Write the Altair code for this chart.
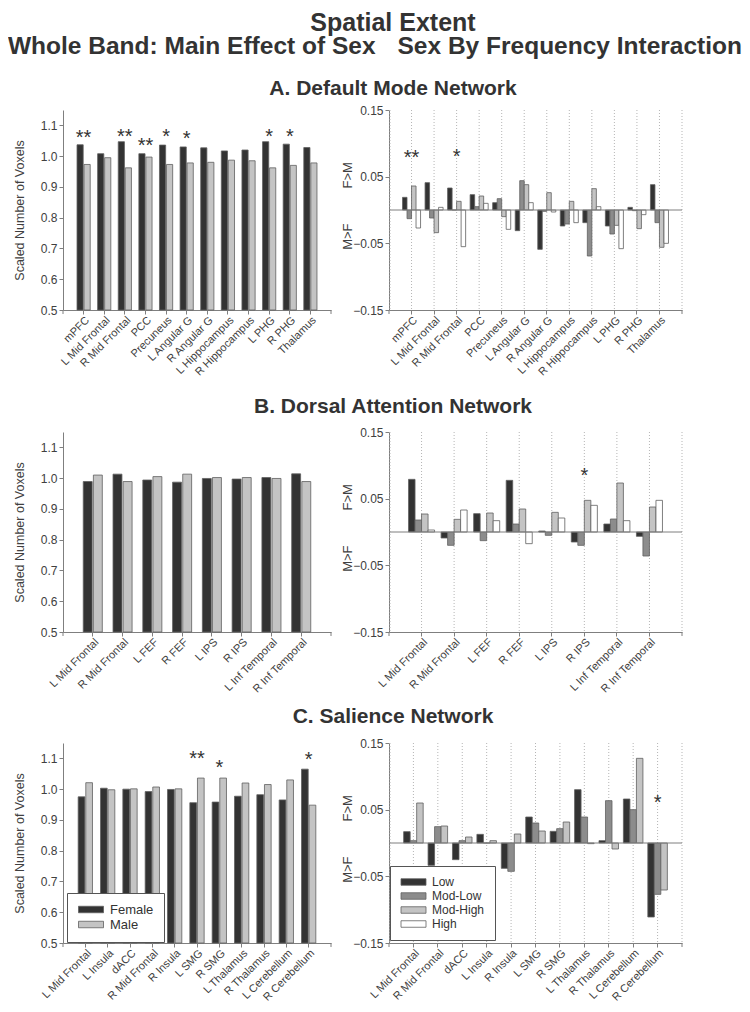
import altair as alt
import pandas as pd

# ---------------- data ----------------
FREQS = ["Low", "Mod-Low", "Mod-High", "High"]
FREQ_COLORS = ["#333333", "#8c8c8c", "#c4c4c4", "#ffffff"]
SEXES = ["Female", "Male"]
SEX_COLORS = ["#333333", "#c4c4c4"]

# A. Default Mode Network
dmn_regions = ["mPFC", "L Mid Frontal", "R Mid Frontal", "PCC", "Precuneus", "L Angular G",
               "R Angular G", "L Hippocampus", "R Hippocampus", "L PHG", "R PHG", "Thalamus"]
dmn_female = [1.037, 1.008, 1.047, 1.008, 1.036, 1.030, 1.027, 1.017, 1.020, 1.047, 1.039, 1.028]
dmn_male = [0.973, 0.995, 0.962, 0.997, 0.973, 0.978, 0.980, 0.987, 0.985, 0.962, 0.970, 0.978]
dmn_sex_stars = ["**", "", "**", "**", "*", "*", "", "", "", "*", "*", ""]
dmn_sex_star_y = [1.076, None, 1.08, 1.048, 1.08, 1.072, None, None, None, 1.08, 1.08, None]
dmn_low = [0.019, 0.041, 0.033, 0.023, 0.011, -0.031, -0.059, -0.024, -0.019, -0.024, 0.004, 0.038]
dmn_modlow = [-0.013, -0.012, 0.0, 0.005, 0.017, 0.044, -0.002, -0.021, -0.069, -0.036, -0.001, -0.019]
dmn_modhigh = [0.036, -0.034, 0.013, 0.021, -0.010, 0.038, 0.026, 0.013, 0.032, -0.023, -0.028, -0.056]
dmn_high = [-0.027, 0.004, -0.055, 0.010, -0.029, 0.011, -0.003, -0.019, 0.005, -0.058, -0.007, -0.050]
dmn_freq_stars = ["**", "", "*", "", "", "", "", "", "", "", "", ""]
dmn_freq_star_y = [0.085, None, 0.0875, None, None, None, None, None, None, None, None, None]

# B. Dorsal Attention Network
dan_regions = ["L Mid Frontal", "R Mid Frontal", "L FEF", "R FEF", "L IPS", "R IPS",
               "L Inf Temporal", "R Inf Temporal"]
dan_female = [0.989, 1.013, 0.994, 0.987, 0.999, 0.997, 1.002, 1.014]
dan_male = [1.010, 0.989, 1.005, 1.013, 1.002, 1.002, 0.999, 0.989]
dan_sex_stars = ["", "", "", "", "", "", "", ""]
dan_sex_star_y = [None] * 8
dan_low = [0.079, -0.009, 0.0275, 0.0775, 0.0015, -0.015, 0.012, -0.0065]
dan_modlow = [0.018, -0.020, -0.013, 0.012, -0.005, -0.020, 0.0195, -0.036]
dan_modhigh = [0.027, 0.019, 0.0285, 0.0345, 0.0295, 0.0475, 0.0735, 0.0375]
dan_high = [0.003, 0.033, 0.017, -0.0175, 0.021, 0.040, 0.017, 0.0475]
dan_freq_stars = ["", "", "", "", "", "*", "", ""]
dan_freq_star_y = [None, None, None, None, None, 0.091, None, None]

# C. Salience Network
sn_sex_regions = ["L Mid Frontal", "L Insula", "dACC", "R Mid Frontal", "R Insula", "L SMG",
                  "R SMG", "L Thalamus", "R Thalamus", "L Cerebellum", "R Cerebellum"]
sn_female = [0.975, 1.003, 1.000, 0.992, 0.999, 0.956, 0.958, 0.977, 0.982, 0.965, 1.065]
sn_male = [1.021, 0.998, 1.001, 1.007, 1.001, 1.036, 1.036, 1.020, 1.015, 1.030, 0.948]
sn_sex_stars = ["", "", "", "", "", "**", "*", "", "", "", "*"]
sn_sex_star_y = [None, None, None, None, None, 1.114, 1.084, None, None, None, 1.11]
sn_freq_regions = ["L Mid Frontal", "R Mid Frontal", "dACC", "L Insula", "R Insula", "L SMG",
                   "R SMG", "L Thalamus", "R Thalamus", "L Cerebellum", "R Cerebellum"]
sn_low = [0.017, -0.0335, -0.025, 0.013, -0.038, 0.039, 0.0175, 0.080, 0.0035, 0.066, -0.111]
sn_modlow = [0.0035, 0.0245, 0.0035, 0.0, -0.0425, 0.030, 0.0215, 0.039, 0.0635, 0.050, -0.077]
sn_modhigh = [0.060, 0.0255, 0.009, 0.0035, 0.0135, 0.018, 0.0315, -0.001, -0.009, 0.127, -0.0705]
sn_high = [None] * 11
sn_freq_stars = ["", "", "", "", "", "", "", "", "", "", "*"]
sn_freq_star_y = [None] * 10 + [0.0675]

side_labels = ["F>M", "M>F"]

# ---------------- style ----------------
FONT = "Liberation Sans"
AX = "#7f7f7f"
LAB = "#404040"
TXT = "#333333"
LW, RW, PH = 268, 293, 200
BAR_STROKE = "#5f5f5f"
SYMBOL_PATH = "M-2.5,-0.65H2.5V0.65H-2.5Z"
XLAB = 11


def one_row():
    return pd.DataFrame({"k": [0]})


def x_encoding(regions, pad_inner):
    return alt.X(
        "region:N", sort=regions,
        scale=alt.Scale(domain=regions, paddingInner=pad_inner, paddingOuter=(1 + pad_inner) / 2),
        axis=alt.Axis(title=None, labelAngle=-45, labelFontSize=XLAB, labelColor=LAB, labelPadding=0,
                      tickSize=4, tickColor=AX, domainColor=AX, grid=False),
    )


def end_ticks(width):
    left = alt.Chart(one_row()).mark_rule(color=AX, strokeWidth=1).encode(
        x=alt.value(0), y=alt.value(PH), y2=alt.value(PH + 4))
    right = alt.Chart(one_row()).mark_rule(color=AX, strokeWidth=1).encode(
        x=alt.value(width), y=alt.value(PH), y2=alt.value(PH + 4))
    return [left, right]


def star_layer(regions, stars, star_y, xenc, yenc_field):
    sdf = pd.DataFrame({"region": regions, "star": stars, "sy": star_y}).dropna()
    sdf = sdf[sdf["star"] != ""]
    return alt.Chart(sdf).mark_text(fontSize=20, baseline="alphabetic", dy=11, color=TXT).encode(
        x=xenc, y=yenc_field("sy"), text="star:N")


def sex_panel(regions, female, male, stars, star_y, legend=None):
    n = len(regions)
    df = pd.DataFrame({"region": regions * 2, "sex": ["Female"] * n + ["Male"] * n,
                       "value": female + male})
    xenc = x_encoding(regions, 0.36)
    yscale = alt.Scale(domain=[0.5, 1.15], zero=False, nice=False)
    yaxis = alt.Axis(values=[0.5, 0.6, 0.7, 0.8, 0.9, 1.0, 1.1], format=".1f",
                     title="Scaled Number of Voxels", titleFontSize=12.5, titleFontWeight="normal",
                     titleColor=LAB, titlePadding=7, labelFontSize=12, labelColor=LAB,
                     tickSize=4, tickColor=AX, domainColor=AX, grid=False,
                     minExtent=30, maxExtent=30)

    def yenc(field):
        return alt.Y(f"{field}:Q", scale=yscale, axis=yaxis)

    bars = alt.Chart(df).mark_bar(stroke=BAR_STROKE, strokeWidth=0.8).encode(
        x=xenc,
        xOffset=alt.XOffset("sex:N", sort=SEXES, scale=alt.Scale(domain=SEXES, paddingInner=0.12)),
        y=yenc("value"),
        y2=alt.datum(0.5),
        fill=alt.Fill("sex:N", scale=alt.Scale(domain=SEXES, range=SEX_COLORS), legend=legend),
    )
    layers = [bars, star_layer(regions, stars, star_y, xenc, yenc)] + end_ticks(LW)
    return alt.layer(*layers).properties(width=LW, height=PH)


def freq_panel(regions, series_vals, stars, star_y, legend=None):
    rows = []
    present = []
    for name, vals in zip(FREQS, series_vals):
        any_val = False
        for r, v in zip(regions, vals):
            if v is not None:
                rows.append({"region": r, "freq": name, "value": v})
                any_val = True
        if any_val:
            present.append(name)
    df = pd.DataFrame(rows)
    xenc = x_encoding(regions, 0.2)
    yscale = alt.Scale(domain=[-0.15, 0.15], nice=False, zero=False)
    yaxis = alt.Axis(values=[-0.15, -0.10, -0.05, 0.0, 0.05, 0.10, 0.15], format=".2f", title=None,
                     labelFontSize=12, labelColor=LAB, tickSize=4, tickColor=AX, domainColor=AX,
                     grid=False)

    def yenc(field):
        return alt.Y(f"{field}:Q", scale=yscale, axis=yaxis)

    grid = alt.Chart(pd.DataFrame({"region": regions})).mark_rule(
        color="#b5b5b5", strokeDash=[1, 2], strokeWidth=1).encode(x=xenc)
    edge_l = alt.Chart(one_row()).mark_rule(color="#b5b5b5", strokeDash=[1, 2], strokeWidth=1).encode(
        x=alt.value(1), y=alt.value(0), y2=alt.value(PH))
    edge_r = alt.Chart(one_row()).mark_rule(color="#b5b5b5", strokeDash=[1, 2], strokeWidth=1).encode(
        x=alt.value(RW), y=alt.value(0), y2=alt.value(PH))
    bars = alt.Chart(df).mark_bar(stroke=BAR_STROKE, strokeWidth=0.8).encode(
        x=xenc,
        xOffset=alt.XOffset("freq:N", sort=present, scale=alt.Scale(domain=present, paddingInner=0)),
        y=yenc("value"),
        y2=alt.datum(0),
        fill=alt.Fill("freq:N", scale=alt.Scale(domain=FREQS, range=FREQ_COLORS), legend=legend),
    )
    zero = alt.Chart(one_row()).mark_rule(color=AX, strokeWidth=1).encode(y=alt.datum(0))
    fm = alt.Chart(one_row()).mark_text(angle=270, fontSize=13, color=LAB, text=side_labels[0]).encode(
        x=alt.value(-41), y=alt.datum(0.052))
    mf = alt.Chart(one_row()).mark_text(angle=270, fontSize=13, color=LAB, text=side_labels[1]).encode(
        x=alt.value(-41), y=alt.datum(-0.04))
    layers = [grid, edge_l, edge_r, bars, zero, fm, mf,
              star_layer(regions, stars, star_y, xenc, yenc)] + end_ticks(RW)
    return alt.layer(*layers).properties(width=RW, height=PH)


def text_block(items, width, height):
    layers = []
    for text, x, y, size, align in items:
        layers.append(
            alt.Chart(pd.DataFrame({"t": [text]})).mark_text(
                fontSize=size, fontWeight="bold", align=align, baseline="middle", color=TXT
            ).encode(text="t:N", x=alt.value(x), y=alt.value(y))
        )
    return alt.layer(*layers).properties(width=width, height=height)


def row(left, right):
    return alt.hconcat(left, right, spacing=9).resolve_scale(
        fill="independent", xOffset="independent", x="independent", y="independent")


def make_legend(x, y, font_size, row_pad):
    return alt.Legend(orient="none", legendX=x, legendY=y, title=None, direction="vertical",
                      fillColor="white", strokeColor="#555555", padding=10, cornerRadius=0,
                      symbolType=SYMBOL_PATH, symbolSize=100, symbolOffset=7.5,
                      symbolStrokeColor=BAR_STROKE, symbolStrokeWidth=0.8, symbolOpacity=1,
                      labelFontSize=font_size, labelColor=TXT, labelOffset=12.5, rowPadding=row_pad)


HW = 679      # header width measured from the plot origin
CX = 330      # figure centre relative to the plot origin

header = text_block([
    ("Spatial Extent", CX, 15, 25, "center"),
    ("Whole Band: Main Effect of Sex", -55, 39, 24.5, "left"),
    ("Sex By Frequency Interaction", HW, 39, 24.5, "right"),
    ("A. Default Mode Network", CX, 81, 21, "center"),
], HW, 96)

row_a = row(
    sex_panel(dmn_regions, dmn_female, dmn_male, dmn_sex_stars, dmn_sex_star_y),
    freq_panel(dmn_regions, [dmn_low, dmn_modlow, dmn_modhigh, dmn_high], dmn_freq_stars, dmn_freq_star_y),
)
title_b = text_block([("B. Dorsal Attention Network", CX, 28.5, 21, "center")], HW, 48)
row_b = row(
    sex_panel(dan_regions, dan_female, dan_male, dan_sex_stars, dan_sex_star_y),
    freq_panel(dan_regions, [dan_low, dan_modlow, dan_modhigh, dan_high], dan_freq_stars, dan_freq_star_y),
)
title_c = text_block([("C. Salience Network", CX, 21.5, 21, "center")], HW, 42)
row_c = row(
    sex_panel(sn_sex_regions, sn_female, sn_male, sn_sex_stars, sn_sex_star_y,
              legend=make_legend(4, 150, 13, 1)),
    freq_panel(sn_freq_regions, [sn_low, sn_modlow, sn_modhigh, sn_high], sn_freq_stars, sn_freq_star_y,
               legend=make_legend(1, 123, 12, 2)),
)

chart = alt.vconcat(header, row_a, title_b, row_b, title_c, row_c, spacing=0, padding=0).resolve_scale(
    fill="independent", xOffset="independent", x="independent", y="independent"
).configure(font=FONT).configure_view(stroke=None)

chart.save("out.html", embed_options={"renderer": "svg", "actions": False})
